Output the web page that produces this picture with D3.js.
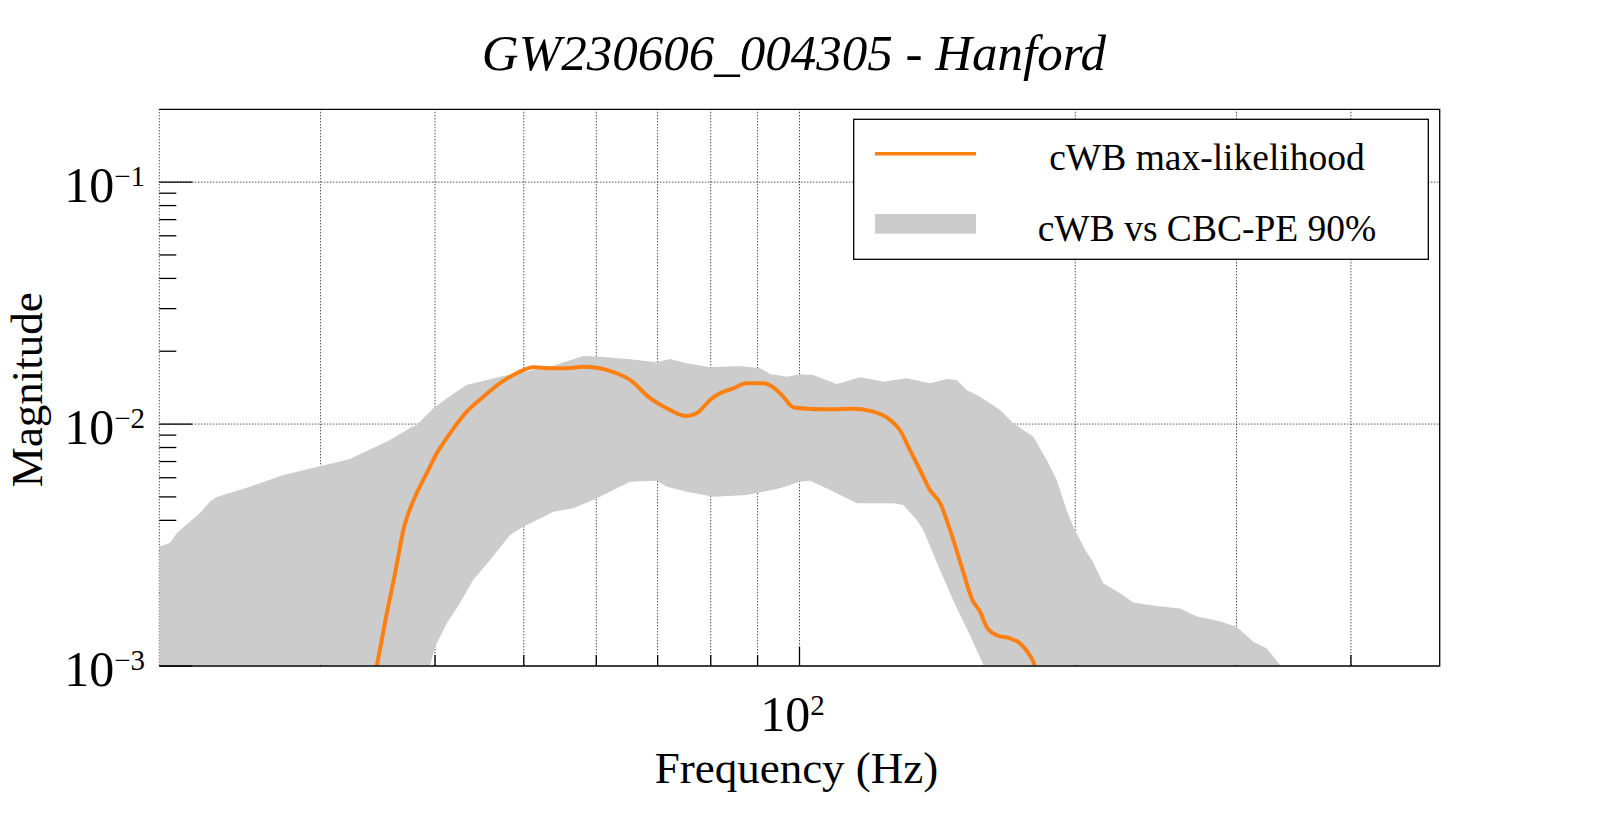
<!DOCTYPE html>
<html><head><meta charset="utf-8">
<script src="https://cdn.jsdelivr.net/npm/d3@7"></script>
<style>
body{margin:0;background:#fff}
svg{display:block}
text{font-family:"Liberation Serif","Times New Roman",Times,serif;fill:#000}
</style>
</head><body>
<svg id="c" width="1599" height="813"></svg>
<script>
// ---------- data ----------
const titleText = "GW230606_004305 - Hanford";
const xTitle = "Frequency (Hz)";
const yTitle = "Magnitude";
const legendLabels = ["cWB max-likelihood", "cWB vs CBC-PE 90%"];

// 90% band, upper edge
const bandUpperFreq = [20.0,20.55,20.9,22.16,22.72,23.10,25.12,27.32,29.71,32.30,35.72,37.56,38.20,39.83,41.54,43.32,47.10,53.42,58.07,60.56,65.31,69.85,72.22,75.32,79.87,86.10,90.56,92.86,96.85,100.1,103.5,109.8,116.5,123.5,130.9,138.8,144.8,148.5,152.2,157.4,165.6,171.2,180.0,186.2,190.9,195.7,199.0,205.0,208.6,214.6,223.8,231.4,245.5,260.3,271.5,287.8,300.2,313.0,323.7,334.7,340];
const bandUpperMag  = [0.00311,0.00323,0.00355,0.00429,0.00478,0.00500,0.00551,0.00616,0.00665,0.00717,0.00860,0.00964,0.00991,0.01162,0.01307,0.01451,0.01570,0.01727,0.01912,0.01900,0.01853,0.01801,0.01858,0.01784,0.01717,0.01739,0.01701,0.01611,0.01570,0.01606,0.01596,0.01465,0.01561,0.01497,0.01547,0.01475,0.01536,0.01522,0.01384,0.01298,0.01144,0.01008,0.00887,0.00710,0.00587,0.00441,0.00377,0.00302,0.00274,0.00220,0.00200,0.00183,0.00177,0.00173,0.00160,0.00153,0.00145,0.00126,0.00118,0.00101,0.00090];

// 90% band, lower edge
const bandLowerFreq = [20,38.5,39.5,40.0,41.19,42.59,44.04,45.94,48.31,49.95,51.22,53.86,56.62,60.05,62.61,65.31,69.85,71.62,75.32,80.53,87.57,95.21,100,102.7,108.0,115.5,126.6,129.8,134.3,136.5,142.4,147.9,153.5,159.0,165,340];
const bandLowerMag  = [0.0005,0.0008,0.00100,0.00120,0.00150,0.00182,0.00227,0.00274,0.00348,0.00377,0.00395,0.00434,0.00449,0.00493,0.00534,0.00578,0.00583,0.00551,0.00525,0.00501,0.00509,0.00543,0.00578,0.00583,0.00534,0.00471,0.00471,0.00463,0.00401,0.00365,0.00249,0.00179,0.00134,0.00100,0.0008,0.0005];

// cWB max-likelihood
const mlFreq = [34.3,34.55,35.43,36.18,36.63,36.94,37.41,38.20,39.17,40.18,41.54,43.32,45.18,47.10,49.12,51.22,53.42,55.70,58.07,60.56,63.15,65.31,68.68,71.62,75.32,77.23,79.87,81.88,84.67,87.57,91.29,93.63,96.0,98.45,101.8,108.9,114.5,120.4,125.6,128.7,132.0,135.4,138.8,142.4,146.0,150.1,154.5,157.4,160.1,164.2,169.8,174.1,177.8,180.8,181.5];
const mlMag  = [0.00088,0.00100,0.00165,0.00242,0.00311,0.00365,0.00428,0.00518,0.00626,0.00757,0.00916,0.01125,0.01298,0.01475,0.01622,0.01717,0.01701,0.01701,0.01727,0.01701,0.01622,0.01522,0.01279,0.01162,0.01080,0.01108,0.01258,0.01340,0.01406,0.01475,0.01475,0.01419,0.01298,0.01173,0.01158,0.01151,0.01158,0.01125,0.01040,0.00945,0.00781,0.00646,0.00534,0.00471,0.00365,0.00262,0.00187,0.00168,0.00145,0.00134,0.00130,0.00124,0.00113,0.00099,0.00090];

// axes
const xDomain = [20, 500];
const yDomain = [0.001, 0.2];
const xGridTicks = [20,30,40,50,60,70,80,90,100,200,300,400];
const xMinorTicks = [30,40,50,60,70,80,90,200,300,400];
const xMajorTicks = [100];
const yMajorTicks = [0.001,0.01,0.1];
const yMinorTicks = [0.002,0.003,0.004,0.005,0.006,0.007,0.008,0.009,0.02,0.03,0.04,0.05,0.06,0.07,0.08,0.09];
const yGridTicks = [0.01,0.1];
const xTickLabels = [{v:100, base:"10", exp:"2"}];
const yTickLabels = [{v:0.1, base:"10", exp:"\u22121"},{v:0.01, base:"10", exp:"\u22122"},{v:0.001, base:"10", exp:"\u22123"}];

// ---------- layout ----------
const L = 159.3, R = 1439.7, T = 109.3, B = 666;
const ORANGE = "#ff8010", GRAY = "#cccccc";

const svg = d3.select("#c");
const x = d3.scaleLog().domain(xDomain).range([L, R]);
const y = d3.scaleLog().domain(yDomain).range([B, T]);

svg.append("defs").append("clipPath").attr("id","plotclip")
  .append("rect").attr("x",L).attr("y",T).attr("width",R-L).attr("height",B-T-0.8);

// grid
const grid = svg.append("g").attr("stroke","#000").attr("stroke-width",1).attr("stroke-dasharray","1,2");
grid.selectAll("line.gx").data(xGridTicks).join("line")
  .attr("x1",d=>x(d)).attr("x2",d=>x(d)).attr("y1",T).attr("y2",B);
grid.selectAll("line.gy").data(yGridTicks).join("line")
  .attr("x1",L).attr("x2",R).attr("y1",d=>y(d)).attr("y2",d=>y(d));

// ticks
const ticks = svg.append("g").attr("stroke","#000").attr("stroke-width",1.3);
ticks.selectAll("line.ymaj").data(yMajorTicks).join("line")
  .attr("x1",L).attr("x2",L+33).attr("y1",d=>y(d)).attr("y2",d=>y(d));
ticks.selectAll("line.ymin").data(yMinorTicks).join("line")
  .attr("x1",L).attr("x2",L+17).attr("y1",d=>y(d)).attr("y2",d=>y(d));
ticks.selectAll("line.xmin").data(xMinorTicks).join("line")
  .attr("x1",d=>x(d)).attr("x2",d=>x(d)).attr("y1",B).attr("y2",B-11);
ticks.selectAll("line.xmaj").data(xMajorTicks).join("line")
  .attr("x1",d=>x(d)).attr("x2",d=>x(d)).attr("y1",B).attr("y2",B-19);

// band
const upper = bandUpperFreq.map((f,i)=>[f,bandUpperMag[i]]);
const lower = bandLowerFreq.map((f,i)=>[f,bandLowerMag[i]]);
const poly = upper.concat(lower.slice().reverse());
const plot = svg.append("g").attr("clip-path","url(#plotclip)");
plot.append("path")
  .attr("d", d3.line().x(d=>x(d[0])).y(d=>y(d[1]))(poly) + "Z")
  .attr("fill",GRAY).attr("stroke","none");

// max-likelihood
const ml = mlFreq.map((f,i)=>[f,mlMag[i]]);
plot.append("path")
  .attr("d", d3.line().x(d=>x(d[0])).y(d=>y(d[1])).curve(d3.curveMonotoneX)(ml))
  .attr("fill","none").attr("stroke",ORANGE).attr("stroke-width",4).attr("stroke-linejoin","round");

// frame (top, right, bottom)
const frame = svg.append("g").attr("stroke","#000").attr("stroke-width",1.3).attr("fill","none");
frame.append("path").attr("d",`M${L},${T}H${R}V${B}H${L}`);

// tick labels
const yl = svg.append("g");
yTickLabels.forEach(t=>{
  const tx = yl.append("text").attr("x",145).attr("y",y(t.v)+20)
    .attr("text-anchor","end").attr("font-size",50);
  tx.append("tspan").text(t.base);
  tx.append("tspan").attr("font-size",29).attr("dy",-16).text(t.exp);
});
xTickLabels.forEach(t=>{
  const tx = svg.append("text").attr("x",x(t.v)-7).attr("y",731)
    .attr("text-anchor","middle").attr("font-size",50);
  tx.append("tspan").text(t.base);
  tx.append("tspan").attr("font-size",29).attr("dy",-16).text(t.exp);
});

// axis titles
svg.append("text").attr("x",(L+R)/2-3).attr("y",783).attr("text-anchor","middle")
  .attr("font-size",45).text(xTitle);
svg.append("text").attr("transform",`translate(41.7,${(T+B)/2+2}) rotate(-90)`)
  .attr("text-anchor","middle").attr("font-size",45).text(yTitle);

// title
svg.append("text").attr("x",794).attr("y",70).attr("text-anchor","middle")
  .attr("font-size",51).attr("font-style","italic").text(titleText);

// legend
const lg = svg.append("g");
lg.append("rect").attr("x",853.7).attr("y",119.3).attr("width",1428.3-853.7).attr("height",259.3-119.3)
  .attr("fill","#fff").attr("stroke","#000").attr("stroke-width",1.3);
lg.append("line").attr("x1",875).attr("x2",976).attr("y1",153.7).attr("y2",153.7)
  .attr("stroke",ORANGE).attr("stroke-width",3.5);
lg.append("rect").attr("x",875).attr("y",214).attr("width",101).attr("height",19.7).attr("fill",GRAY);
lg.selectAll("text.lt").data(legendLabels).join("text")
  .attr("x",1207).attr("y",(d,i)=>169.5+i*71).attr("text-anchor","middle")
  .attr("font-size",37.5).text(d=>d);
</script>
</body></html>
